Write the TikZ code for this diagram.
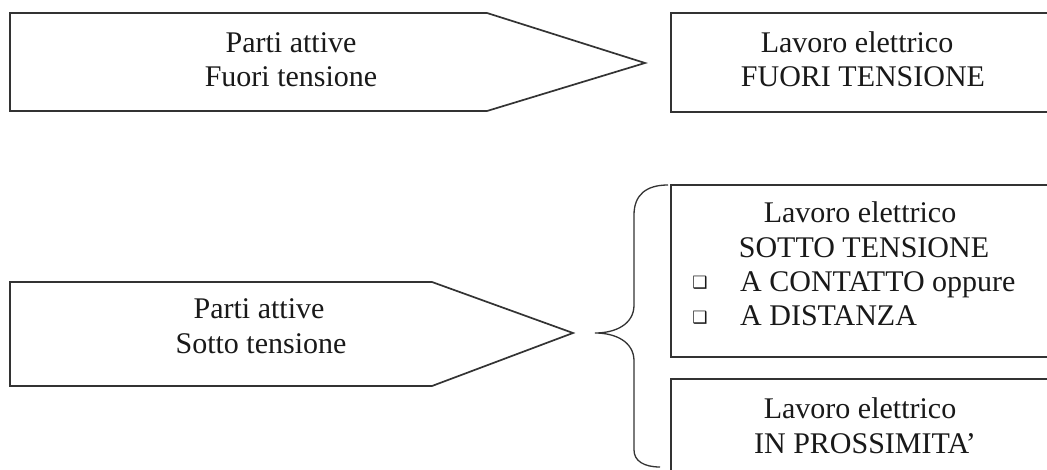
\documentclass[tikz,border=0pt]{standalone}
\usepackage{fontspec}
\setmainfont{Liberation Serif}
\newfontfamily\dingfont{DejaVu Sans}
\begin{document}
\begin{tikzpicture}[x=1pt,y=-1pt,
  shapeline/.style={draw=black!80, line width=1.7pt, line join=miter},
  bracketline/.style={draw=black!80, line width=1.3pt},
  txt/.style={anchor=base, inner sep=0pt, text=black!90, font=\fontsize{30}{34}\selectfont},
  txtl/.style={txt, anchor=base west},
  bul/.style={anchor=center, inner sep=0pt, text=black!90, font=\dingfont\fontsize{17}{17}\selectfont}]
\useasboundingbox (0,0) rectangle (1047,470);
\clip (0,0) rectangle (1047,470);
\fill[white] (0,0) rectangle (1047,470);
% left arrow shapes
\draw[shapeline] (10,13) -- (487,13) -- (645,63) -- (487,111) -- (10,111) -- cycle;
\draw[shapeline] (10,282) -- (432,282) -- (573,333) -- (432,386) -- (10,386) -- cycle;
% right boxes
\draw[shapeline] (671,13) rectangle (1070,112);
\draw[shapeline] (671,185) rectangle (1070,357);
\draw[shapeline] (671,379) rectangle (1070,500);
% brace
\draw[bracketline] (668,185) .. controls (646,185) and (634,195) .. (634,215)
  -- (634,305) .. controls (634,324) and (616,333) .. (595,333)
  .. controls (616,333) and (634,342) .. (634,361)
  -- (634,450) .. controls (634,461) and (644,467) .. (660,467);
% texts
\node[txt] (a1) at (291,53) {Parti attive};
\node[txt] (a2) at (291,87) {Fuori tensione};
\node[txt] (b1) at (259,319) {Parti attive};
\node[txt] (b2) at (261,353) {Sotto tensione};
\node[txt] (c1) at (857,53) {Lavoro elettrico};
\node[txt] (c2) at (863,87) {FUORI TENSIONE};
\node[txt] (d1) at (860,223) {Lavoro elettrico};
\node[txt] (d2) at (864,258) {SOTTO TENSIONE};
\node[txtl] (d3) at (740,292) {A CONTATTO oppure};
\node[txtl] (d4) at (740,326) {A DISTANZA};
\node[bul] (d3b) at (700,283) {❑};
\node[bul] (d4b) at (700,318) {❑};
\node[txt] (e1) at (860,418) {Lavoro elettrico};
\node[txt] (e2) at (865,453) {IN PROSSIMITA’};
\end{tikzpicture}
\end{document}
